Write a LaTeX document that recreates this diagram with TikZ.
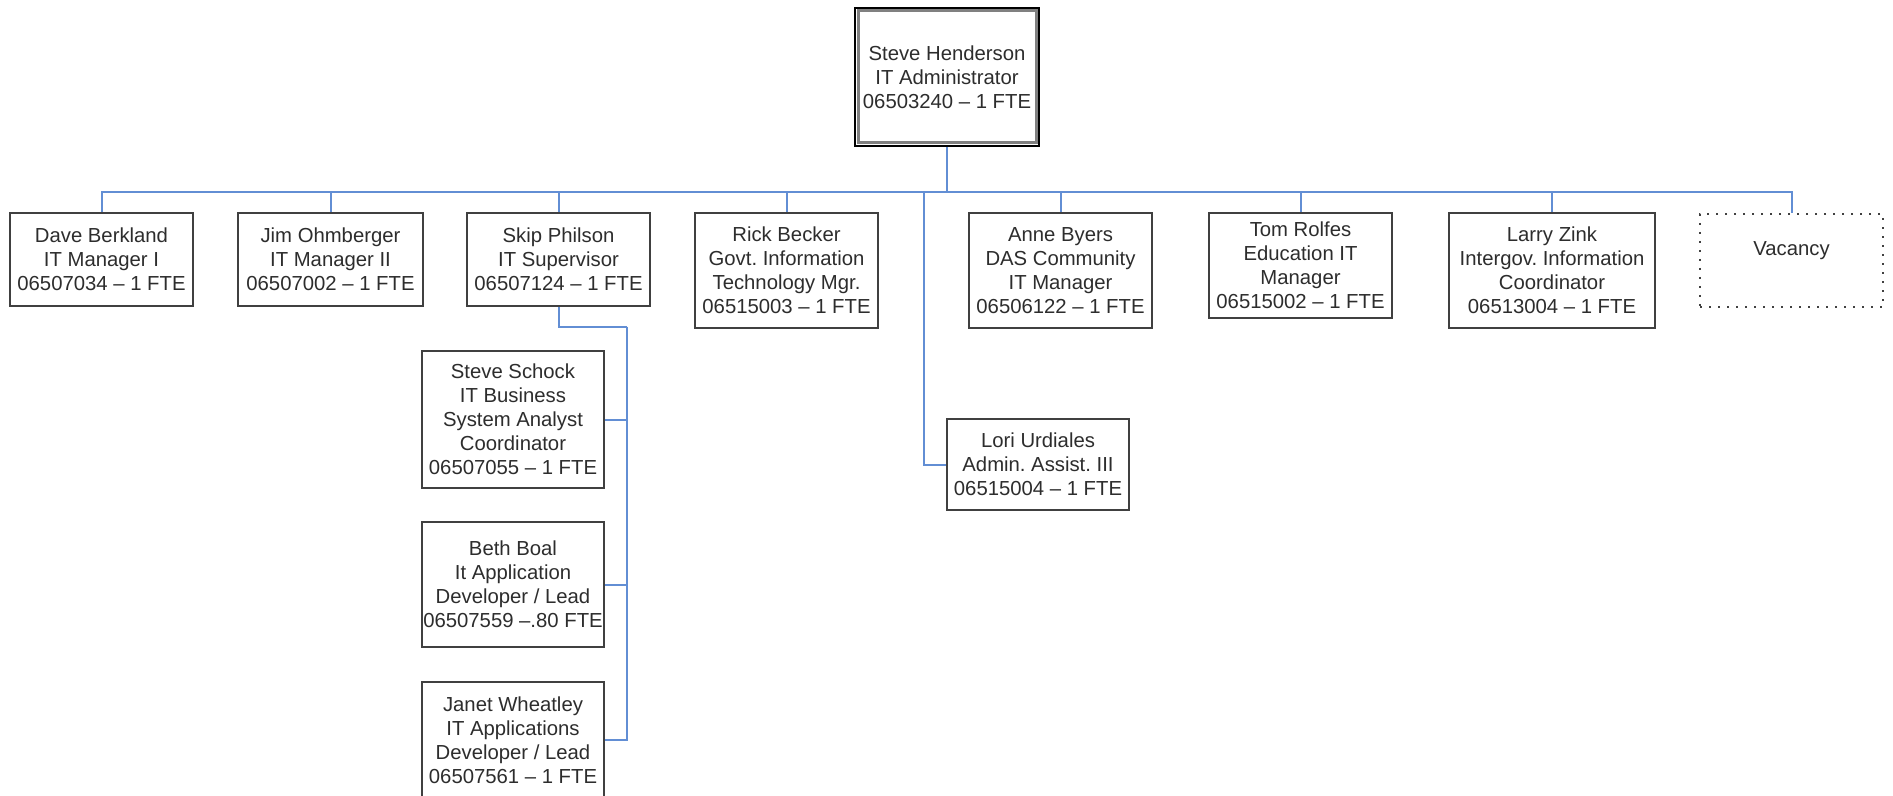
\documentclass[tikz,border=0pt]{standalone}
\usepackage{fontspec}
\setmainfont{Liberation Sans}
\usepackage{tikz}
\usetikzlibrary{calc,positioning}
\definecolor{orgline}{RGB}{98,142,212}
\definecolor{boxline}{RGB}{64,64,64}
\definecolor{boxtext}{RGB}{45,45,45}
\frenchspacing

\begin{document}
\begin{tikzpicture}[x=0.5pt,y=-0.5pt,
  person/.style={draw=boxline,line width=1pt,fill=white,align=center,inner sep=0pt,
    text=boxtext,font=\fontsize{10.15}{12}\selectfont,minimum width=91.5pt},
  vacant/.style={person,draw=boxline,dash pattern=on 0.8pt off 3.7pt,text height=21pt,text depth=25.5pt},
  link/.style={draw=orgline,line width=1pt}]
\useasboundingbox (0,0) rectangle (1893,796);
%\draw[very thin,color=gray,step=50] (0,0) grid (1893,796);
% top
\node[person,draw=black,minimum width=92pt,minimum height=69pt] (henderson) at (947,77)
  {Steve Henderson\\IT Administrator\\06503240 – 1 FTE};
\draw[gray,line width=1.5pt] ([shift={(4,4)}]henderson.north west) rectangle ([shift={(-4,-4)}]henderson.south east);
% second row
\node[person,minimum height=46.5pt] (berkland) at (101.5,259.5) {Dave Berkland\\IT Manager I\\06507034 – 1 FTE};
\node[person,minimum width=92.5pt,minimum height=46.5pt] (ohmberger) at (330.5,259.5) {Jim Ohmberger\\IT Manager II\\06507002 – 1 FTE};
\node[person,minimum height=46.5pt] (philson) at (558.5,259.5) {Skip Philson\\IT Supervisor\\06507124 – 1 FTE};
\node[person,minimum height=57.5pt] (becker) at (786.5,270.5) {Rick Becker\\Govt. Information\\Technology Mgr.\\06515003 – 1 FTE};
\node[person,minimum height=57.5pt] (byers) at (1060.5,270.5) {Anne Byers\\DAS Community\\IT Manager\\06506122 – 1 FTE};
\node[person,minimum height=52.5pt] (rolfes) at (1300.5,265.5) {Tom Rolfes\\Education IT\\Manager\\06515002 – 1 FTE};
\node[person,minimum width=103pt,minimum height=57.5pt] (zink) at (1552,270.5) {Larry Zink\\Intergov. Information\\Coordinator\\06513004 – 1 FTE};
\node[vacant,anchor=north] (vacancy) at (1791.5,213) {Vacancy};
% under Skip Philson
\node[person,minimum width=91pt,minimum height=68.5pt] (schock) at (513,419.5) {Steve Schock\\IT Business\\System Analyst\\Coordinator\\06507055 – 1 FTE};
\node[person,minimum width=91pt,minimum height=62.5pt] (boal) at (513,584.5) {Beth Boal\\It Application\\Developer / Lead\\06507559 –.80 FTE};
\node[person,minimum width=91pt,minimum height=58pt] (wheatley) at (513,740) {Janet Wheatley\\IT Applications\\Developer / Lead\\06507561 – 1 FTE};
% staff
\node[person,minimum width=91pt,minimum height=45.5pt] (urdiales) at (1038,464.5) {Lori Urdiales\\Admin. Assist. III\\06515004 – 1 FTE};
% connectors
\coordinate (bus) at (947,192);
\coordinate (staff) at (924,192);
\coordinate (spine) at (627,327);
\draw[link] (henderson.south) -- (bus);
\foreach \n in {berkland,ohmberger,philson,becker,byers,rolfes,zink,vacancy}
  \draw[link] (bus) -| (\n.north);
\draw[link] (staff) |- (urdiales.west);
\draw[link] (philson.south) |- (spine);
\foreach \n in {schock,boal,wheatley}
  \draw[link] (spine) |- (\n.east);
\end{tikzpicture}
\end{document}
